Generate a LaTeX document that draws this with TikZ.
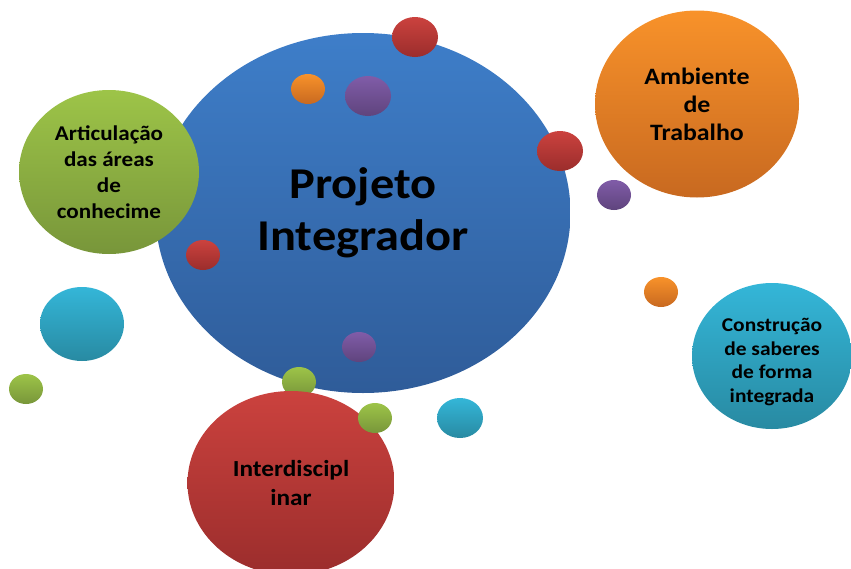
\documentclass[tikz,border=0pt]{standalone}
\usepackage{fontspec}
\setmainfont[FakeStretch=1.1]{Carlito}
\usetikzlibrary{shapes.geometric}

\definecolor{azulA}{RGB}{62,126,201}
\definecolor{azulB}{RGB}{47,92,153}
\definecolor{verdeA}{RGB}{157,196,72}
\definecolor{verdeB}{RGB}{120,150,58}
\definecolor{laranjaA}{RGB}{248,146,42}
\definecolor{laranjaB}{RGB}{200,105,32}
\definecolor{vermelhoA}{RGB}{203,66,62}
\definecolor{vermelhoB}{RGB}{155,45,44}
\definecolor{roxoA}{RGB}{128,92,168}
\definecolor{roxoB}{RGB}{95,68,125}
\definecolor{cianoA}{RGB}{52,182,216}
\definecolor{cianoB}{RGB}{40,138,162}

\begin{document}
\begin{tikzpicture}[x=1pt,y=-1pt,
  bolha/.style={ellipse,inner sep=0pt,outer sep=0pt,
    top color=#1A,bottom color=#1B,
    align=center,text=black,font=\bfseries},
  bolha/.default=azul,
  gota/.style={bolha=#1,minimum width=34pt,minimum height=30pt},
  gotona/.style={bolha=#1,minimum width=46pt,minimum height=40pt}]

 \useasboundingbox (0,0) rectangle (851,568);

 % bolha central
 \node[bolha=azul,minimum width=415pt,minimum height=360pt,
   font=\bfseries\fontsize{44}{52}\selectfont] (proj) at (363,213)
   {Projeto\\Integrador};

 \node[bolha=verde,minimum width=180pt,minimum height=164pt,
   font=\bfseries\fontsize{21}{26}\selectfont] (artic) at (109,172)
   {Articulação\\das áreas\\de\\conhecime};
 \node[bolha=laranja,minimum width=204pt,minimum height=187pt,
   font=\bfseries\fontsize{23.5}{28}\selectfont] (amb) at (697,104)
   {Ambiente\\de\\Trabalho};
 \node[bolha=ciano,minimum width=160pt,minimum height=146pt,
   text height=96pt,
   font=\bfseries\fontsize{19.5}{23.5}\selectfont] (constr) at (772,356)
   {Construção\\de saberes\\de forma\\integrada};

 % bolinhas
 \node[gotona=vermelho] (verm1) at (415,37) {};
 \node[gota=laranja] (lar1) at (308,89) {};
 \node[gotona=roxo] (roxo1) at (368,96) {};
 \node[gota=vermelho] (verm2) at (203,255) {};
 \node[gotona=vermelho] (verm3) at (560,151) {};
 \node[gota=roxo] (roxo2) at (614,195) {};
 \node[gota=laranja] (lar2) at (661,292) {};
 \node[bolha=ciano,minimum width=84pt,minimum height=74pt] (ciano1) at (82,324) {};
 \node[gota=verde] (verde1) at (26,389) {};
 \node[gota=roxo] (roxo3) at (359,347) {};
 \node[gota=verde] (verde2) at (299,382) {};
 \node[gotona=ciano] (ciano2) at (460,418) {};

 \node[bolha=vermelho,minimum width=207pt,minimum height=184pt,
   font=\bfseries\fontsize{23}{29}\selectfont] (inter) at (291,483)
   {Interdiscipl\\inar};
 \node[gota=verde] (verde3) at (375,418) {};

\end{tikzpicture}
\end{document}
